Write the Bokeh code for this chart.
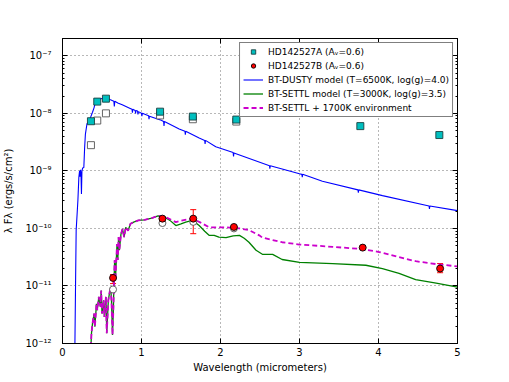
import numpy as np
from bokeh.plotting import figure
from bokeh.models import (Range1d, LogAxis, LinearAxis, CustomJSTickFormatter, Whisker,
                          TeeHead, ColumnDataSource, Legend, LegendItem, FixedTicker)
from bokeh.embed import file_html
from bokeh.resources import INLINE

# ---------------- data ----------------
# HD142527A photometry, extinction corrected (filled) and observed (open)
a_wl = [0.36, 0.44, 0.55, 1.235, 1.65, 2.20, 3.77, 4.77]
a_flux = [7.3e-9, 1.6e-8, 1.8e-8, 1.07e-8, 8.8e-9, 7.8e-9, 6.0e-9, 4.2e-9]
a_obs_wl = [0.36, 0.44, 0.55, 1.235, 1.65, 2.20]
a_obs_flux = [2.8e-9, 7.5e-9, 1.0e-8, 9.2e-9, 7.9e-9, 7.2e-9]

# HD142527B photometry
b_wl = [0.64, 1.265, 1.655, 2.17, 3.80, 4.78]
b_flux = [1.38e-11, 1.48e-10, 1.48e-10, 1.06e-10, 4.64e-11, 2.01e-11]
b_upper = [1.58e-11, 1.55e-10, 2.12e-10, 1.11e-10, 4.85e-11, 2.45e-11]
b_lower = [1.10e-11, 1.41e-10, 8.1e-11, 1.01e-10, 4.45e-11, 1.70e-11]
b_obs_wl = [0.64, 1.265, 1.655, 2.17]
b_obs_flux = [8.7e-12, 1.24e-10, 1.30e-10, 1.00e-10]

# BT-DUSTY model (T=6500K), log10 of flux
dusty_wl = [0.155, 0.165, 0.173, 0.185, 0.195, 0.207, 0.216, 0.222, 0.228, 0.234,
            0.240, 0.246, 0.255, 0.27, 0.28, 0.29, 0.31, 0.335, 0.355, 0.38,
            0.40, 0.42, 0.45, 0.48, 0.545, 0.60, 0.65, 0.656, 0.662, 0.70,
            0.756, 0.85, 0.88, 0.885, 0.89, 0.92, 0.925, 0.93, 0.95, 0.955,
            0.96, 1.0, 1.005, 1.01, 1.09, 1.095, 1.10, 1.25, 1.28, 1.285,
            1.29, 1.477, 1.55, 1.555, 1.56, 1.73, 1.80, 1.805, 1.81, 1.94,
            2.16, 2.165, 2.17, 2.62, 2.625, 2.63, 3.0, 3.03, 3.035, 3.04,
            3.29, 3.74, 3.745, 3.75, 4.05, 4.64, 4.645, 4.65, 5.0]
dusty_log = [-12.3, -11.0, -10.03, -9.75, -9.51, -9.11, -9.0, -9.1, -8.98, -9.05,
             -9.4, -9.0, -8.95, -8.94, -8.6, -8.36, -8.18, -8.15, -8.07, -7.98,
             -7.90, -7.78, -7.77, -7.75, -7.72, -7.76, -7.79, -7.88, -7.79, -7.82,
             -7.85, -7.91, -7.93, -7.99, -7.93, -7.95, -8.0, -7.95, -7.96, -8.02,
             -7.97, -8.0, -8.05, -8.0, -8.04, -8.1, -8.05, -8.12, -8.14, -8.22,
             -8.14, -8.27, -8.31, -8.37, -8.31, -8.43, -8.47, -8.53, -8.47, -8.58,
             -8.68, -8.75, -8.69, -8.91, -8.96, -8.91, -9.05, -9.06, -9.11, -9.06,
             -9.18, -9.33, -9.38, -9.33, -9.43, -9.61, -9.66, -9.61, -9.69]

# BT-SETTL model (T=3000K), log10 of flux
settl_wl = [0.355, 0.367, 0.38, 0.40, 0.41, 0.43, 0.44, 0.46, 0.48, 0.49,
            0.50, 0.52, 0.53, 0.55, 0.56, 0.58, 0.60, 0.61, 0.62, 0.633,
            0.645, 0.65, 0.66, 0.67, 0.69, 0.70, 0.71, 0.72, 0.74, 0.76,
            0.78, 0.80, 0.83, 0.86, 0.90, 0.96, 1.04, 1.13, 1.21, 1.30,
            1.36, 1.435, 1.50, 1.56, 1.645, 1.73, 1.80, 1.855, 1.92, 1.98,
            2.07, 2.16, 2.24, 2.30, 2.36, 2.45, 2.53, 2.66, 2.78, 3.0,
            3.42, 3.84, 4.05, 4.26, 4.47, 4.73, 5.0]
settl_log = [-12.2, -11.82, -11.65, -11.48, -11.71, -11.31, -11.42, -11.19, -11.36, -11.08,
             -11.48, -11.25, -11.54, -11.19, -11.82, -11.25, -11.08, -11.02, -11.25, -11.85,
             -11.36, -11.02, -10.55, -10.90, -10.27, -10.55, -10.15, -10.38, -10.10, -10.01,
             -10.15, -9.98, -10.04, -9.92, -9.89, -9.86, -9.85, -9.82, -9.78, -9.81,
             -9.86, -9.95, -9.92, -9.89, -9.86, -9.95, -10.05, -10.12, -10.12, -10.15,
             -10.16, -10.13, -10.12, -10.17, -10.24, -10.38, -10.45, -10.45, -10.54, -10.59,
             -10.61, -10.64, -10.70, -10.78, -10.89, -10.95, -11.02]

# BT-SETTL + 1700K environment (beyond 1.3 um; below it follows BT-SETTL)
env_wl = [1.30, 1.435, 1.55, 1.645, 1.75, 1.855, 2.07, 2.24, 2.36, 2.49,
          2.53, 2.78, 3.0, 3.42, 3.80, 4.01, 4.26, 4.47, 4.73, 5.0]
env_log = [-9.80, -9.89, -9.85, -9.83, -9.90, -9.98, -9.98, -10.0, -10.03, -10.12,
           -10.16, -10.24, -10.28, -10.32, -10.36, -10.41, -10.50, -10.57, -10.62, -10.66]

x_ticks = [0, 1, 2, 3, 4, 5]
y_ticks = [1e-12, 1e-11, 1e-10, 1e-9, 1e-8, 1e-7]

# ---------------- figure ----------------
FONT = "DejaVu Sans"
p = figure(y_axis_type="log", x_range=Range1d(0, 5), y_range=Range1d(1e-12, 2e-7),
           frame_width=395, frame_height=305,
           min_border_left=55, min_border_top=38, min_border_right=25, min_border_bottom=34,
           output_backend="svg", toolbar_location=None,
           x_axis_label="Wavelength (micrometers)",
           y_axis_label="λ Fλ (ergs/s/cm²)")
p.outline_line_color = "black"
p.outline_line_width = 1
p.background_fill_color = "white"
p.border_fill_color = "white"

sup_code = """
const s = {'-':'\u207b','0':'\u2070','1':'\u00b9','2':'\u00b2','3':'\u00b3','4':'\u2074',
           '5':'\u2075','6':'\u2076','7':'\u2077','8':'\u2078','9':'\u2079'};
const e = Math.round(Math.log10(tick));
return '10' + String(e).split('').map(c => s[c]).join('');
"""
minor_y = [m * 10.0 ** k for k in range(-12, -6) for m in range(2, 10)]

def style_axis(ax):
    ax.axis_line_color = "black"
    ax.major_tick_in = 5
    ax.major_tick_out = 0
    ax.minor_tick_in = 2
    ax.minor_tick_out = 0
    ax.major_tick_line_color = "black"
    ax.minor_tick_line_color = "black"
    ax.major_label_text_font = FONT
    ax.major_label_text_font_size = "10px"
    ax.major_label_text_color = "black"
    ax.axis_label_text_font = FONT
    ax.axis_label_text_font_size = "10px"
    ax.axis_label_text_font_style = "normal"
    ax.axis_label_text_color = "black"

xa = p.xaxis[0]
style_axis(xa)
xa.ticker = FixedTicker(ticks=x_ticks)
xa.minor_tick_line_color = None
xa.major_label_standoff = 4
xa.axis_label_standoff = 3

ya = p.yaxis[0]
style_axis(ya)
ya.ticker = FixedTicker(ticks=y_ticks, minor_ticks=minor_y)
ya.formatter = CustomJSTickFormatter(code=sup_code)
ya.major_label_standoff = 11
ya.axis_label_standoff = 8

empty = CustomJSTickFormatter(code="return ''")
top = LinearAxis(ticker=FixedTicker(ticks=x_ticks), formatter=empty)
style_axis(top)
top.minor_tick_line_color = None
top.major_label_standoff = 0
right = LogAxis(ticker=FixedTicker(ticks=y_ticks, minor_ticks=minor_y), formatter=empty)
style_axis(right)
right.major_label_standoff = 0
p.add_layout(top, "above")
p.add_layout(right, "right")

for g in (p.xgrid[0], p.ygrid[0]):
    g.grid_line_color = "black"
    g.grid_line_alpha = 0.7
    g.grid_line_dash = "1 3"
    g.grid_line_width = 0.8
p.xgrid[0].ticker = FixedTicker(ticks=x_ticks)
p.ygrid[0].ticker = FixedTicker(ticks=y_ticks)

# ---------------- models ----------------
r_dusty = p.line(dusty_wl, 10 ** np.array(dusty_log), line_color="#0000ff", line_width=1.1)
r_settl = p.line(settl_wl, 10 ** np.array(settl_log), line_color="#008000", line_width=1.3)
mix_wl = [w for w in settl_wl if w < 1.3] + env_wl
mix_log = [v for w, v in zip(settl_wl, settl_log) if w < 1.3] + env_log
r_env = p.line(mix_wl, 10 ** np.array(mix_log), line_color="#cc00cc", line_width=1.8,
               line_dash="5 3")

# ---------------- photometry ----------------
p.scatter(a_obs_wl, a_obs_flux, marker="square", size=7, fill_color="white",
          line_color="#555555", line_width=0.9)
p.scatter(b_obs_wl, b_obs_flux, marker="circle", size=7, fill_color="white",
          line_color="#555555", line_width=0.9)

r_a = p.scatter(a_wl, a_flux, marker="square", size=7, fill_color="#00bfbf",
                line_color="#1a4040", line_width=0.9)

bsrc = ColumnDataSource(dict(x=b_wl, y=b_flux, upper=b_upper, lower=b_lower))
wh = Whisker(base="x", upper="upper", lower="lower", source=bsrc,
             line_color="red", line_width=1,
             upper_head=TeeHead(size=6, line_color="red", line_width=1),
             lower_head=TeeHead(size=6, line_color="red", line_width=1))
p.add_layout(wh)
r_b = p.scatter("x", "y", source=bsrc, marker="circle", size=7, fill_color="#ff0000",
                line_color="black", line_width=0.9)

legend = Legend(items=[
    LegendItem(label="HD142527A (Aᵥ=0.6)", renderers=[r_a]),
    LegendItem(label="HD142527B (Aᵥ=0.6)", renderers=[r_b]),
    LegendItem(label="BT-DUSTY model (T=6500K, log(g)=4.0)", renderers=[r_dusty]),
    LegendItem(label="BT-SETTL model (T=3000K, log(g)=3.5)", renderers=[r_settl]),
    LegendItem(label="BT-SETTL + 1700K environment", renderers=[r_env]),
], location="top_right")
legend.label_text_font = FONT
legend.label_text_font_size = "9px"
legend.label_text_color = "black"
legend.border_line_color = "black"
legend.border_line_width = 1
legend.background_fill_color = "white"
legend.background_fill_alpha = 1
legend.padding = 3
legend.spacing = 3
legend.label_height = 11
legend.glyph_height = 11
legend.glyph_width = 20
legend.label_standoff = 5
legend.margin = 4
p.add_layout(legend)

open("out.html", "w").write(file_html(p, INLINE))
